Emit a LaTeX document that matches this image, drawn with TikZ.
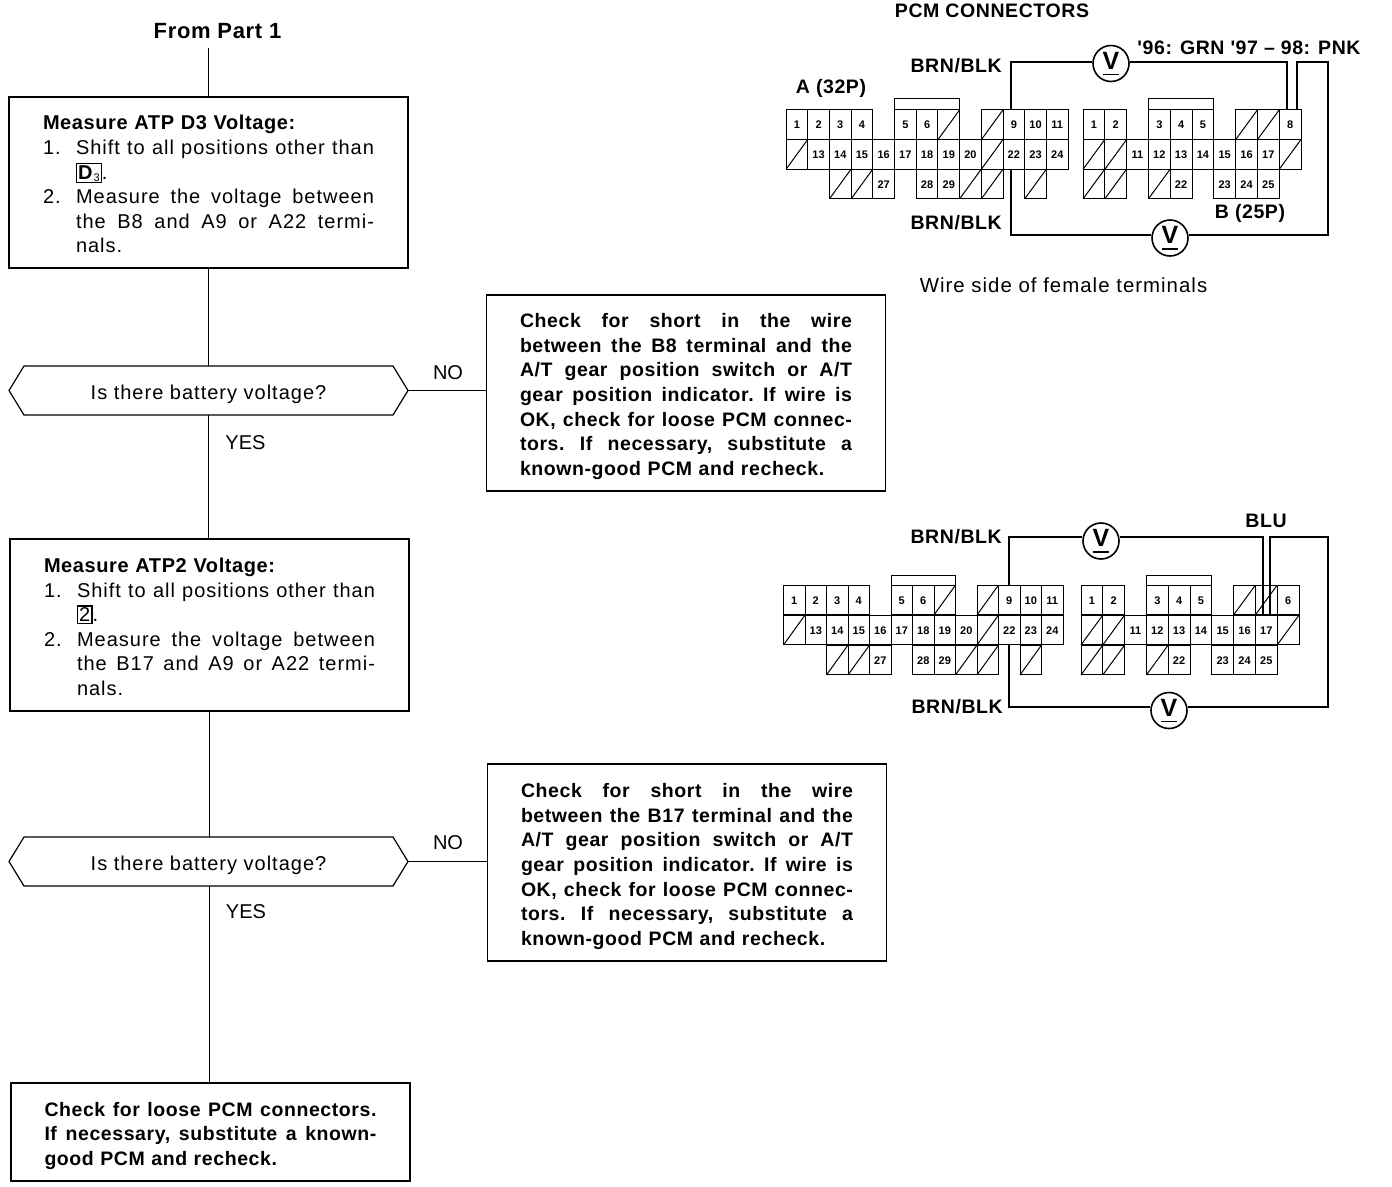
\documentclass[tikz,border=0pt]{standalone}
\usepackage{fontspec}
\setmainfont{Liberation Sans}
\newfontfamily\widefont[LetterSpace=5]{Liberation Sans}
\newfontfamily\wideboldfont[LetterSpace=3]{Liberation Sans}
\usepackage{tikz}
\usetikzlibrary{shapes.symbols}

\tikzset{
  stepbox/.style={draw, line width=1.2pt, rectangle, inner ysep=0pt, outer sep=0pt, align=left,
    font=\widefont\fontsize{20}{24.6}\selectfont},
  stepboldbox/.style={stepbox, font=\wideboldfont\bfseries\fontsize{19.5}{24.6}\selectfont,
    text width=332pt, inner xsep=33.5pt},
  askbox/.style={draw, line width=1.2pt, signal, signal to=west and east, signal pointer angle=117,
    minimum width=399pt, minimum height=49pt, inner sep=0pt, outer sep=0pt,
    font=\widefont\fontsize{20}{24}\selectfont},
  flow/.style={line width=1.1pt},
  wire/.style={line width=1.8pt},
  pinline/.style={line width=1pt},
  pincell/.style={draw, line width=1pt, rectangle, minimum height=29.8pt, inner sep=0pt, outer sep=0pt,
    text height=8pt, text depth=0pt, font=\bfseries\fontsize{11}{11}\selectfont},
  meter/.style={draw, line width=1.6pt, circle, fill=white, minimum size=36pt, inner sep=0pt,
    font=\bfseries\fontsize{25}{25}\selectfont},
  tag/.style={inner sep=0pt, font=\wideboldfont\bfseries\fontsize{19.5}{20}\selectfont},
  plainlabel/.style={inner sep=0pt, font=\fontsize{20}{20}\selectfont}
}

% align=left makes the spaces rigid, so give them their stretch back
\newcommand{\spreadline}[2]{\hbox to #1{\frenchspacing\spaceskip=.28em plus 1em minus .03em\relax #2}}
\newcommand{\fitline}[1]{\leavevmode\spreadline{332pt}{#1}}
\newcommand{\listline}[2]{\makebox[33pt][l]{#1}\spreadline{298pt}{#2}}
\newcommand{\gearbox}[1]{{\fboxsep=1pt\fboxrule=1.2pt\fbox{#1}}}
\newcommand{\meterlabel}{\makebox[0pt]{V}\makebox[0pt]{\rule[-6pt]{16pt}{1.5pt}}}
\newcommand{\asklabel}{\raisebox{-9pt}[0pt][0pt]{Is there battery voltage?}}
% prefix, left edge, cell width, row centre, col/label list
\newcommand{\pincells}[5]{%
  \foreach \col/\lab in {#5} {
    \node[pincell, minimum width=#3pt] (#1\lab) at ({#2+(\col+.5)*#3},#4) {\lab};
  }}
% same, but for the empty cells with a slash
\newcommand{\deadcells}[5]{%
  \foreach \col in {#5} {
    \node[pincell, minimum width=#3pt] (#1x\col) at ({#2+(\col+.5)*#3},#4) {};
    \draw[pinline] (#1x\col.south west) -- (#1x\col.north east);
  }}

\begin{document}
\begin{tikzpicture}[x=1pt,y=-1pt]
  \useasboundingbox (0,0) rectangle (1392,1186);

  % flow chart
  \node[tag, font=\wideboldfont\bfseries\fontsize{22}{22}\selectfont] (frompart) at (217.5,31) {From Part 1};
  \coordinate (start) at (208.5,48);

  \node[stepbox, text width=331pt, inner xsep=34pt, minimum height=171pt] (measd) at (208.5,182.5) {%
    \rule{0pt}{18pt}{\wideboldfont\bfseries Measure ATP D3 Voltage:}\\
    \listline{1.}{Shift to all positions other than}\\
    \hspace*{33pt}\gearbox{\textbf{D}\raisebox{-2pt}{\fontsize{11}{11}\selectfont 3}}.\\
    \listline{2.}{Measure the voltage between}\\
    \hspace*{33pt}\spreadline{298pt}{the B8 and A9 or A22 termi-}\\
    \hspace*{33pt}nals.};
  \node[askbox] (askd) at (208.5,390.5) {\asklabel};
  \node[stepboldbox, minimum height=196pt] (shortd) at (686,393) {%
    \rule{0pt}{21pt}\fitline{Check for short in the wire}\\
    \fitline{between the B8 terminal and the}\\
    \fitline{A/T gear position switch or A/T}\\
    \fitline{gear position indicator. If wire is}\\
    \fitline{OK, check for loose PCM connec-}\\
    \fitline{tors. If necessary, substitute a}\\
    known-good PCM and recheck.};
  \node[plainlabel] (nod) at (448,373) {NO};
  \node[plainlabel] (yesd) at (245.5,443) {YES};

  \node[stepbox, text width=331pt, inner xsep=34pt, minimum height=172pt] (meastwo) at (209.5,625) {%
    \rule{0pt}{18pt}{\wideboldfont\bfseries Measure ATP2 Voltage:}\\
    \listline{1.}{Shift to all positions other than}\\
    \hspace*{33pt}\gearbox{2}.\\
    \listline{2.}{Measure the voltage between}\\
    \hspace*{33pt}\spreadline{298pt}{the B17 and A9 or A22 termi-}\\
    \hspace*{33pt}nals.};
  \node[askbox] (asktwo) at (208.5,861.5) {\asklabel};
  \node[stepboldbox, minimum height=197pt] (shorttwo) at (687,862.5) {%
    \rule{0pt}{22pt}\fitline{Check for short in the wire}\\
    \fitline{between the B17 terminal and the}\\
    \fitline{A/T gear position switch or A/T}\\
    \fitline{gear position indicator. If wire is}\\
    \fitline{OK, check for loose PCM connec-}\\
    \fitline{tors. If necessary, substitute a}\\
    known-good PCM and recheck.};
  \node[plainlabel] (notwo) at (448,843) {NO};
  \node[plainlabel] (yestwo) at (246,912) {YES};

  \node[stepboldbox, minimum height=98pt] (finalchk) at (210.5,1132) {%
    \rule{0pt}{22pt}\fitline{Check for loose PCM connectors.}\\
    \fitline{If necessary, substitute a known-}\\
    good PCM and recheck.};

  \draw[flow] (start) -- (measd.north);
  \draw[flow] (measd.south) -- (askd.north);
  \draw[flow] (askd.south) -- (askd.south |- meastwo.north);
  \draw[flow] (meastwo.south) -- (asktwo.north -| meastwo.south);
  \draw[flow] (asktwo.south -| meastwo.south) -- (finalchk.north -| meastwo.south);
  \draw[flow] (askd.east) -- (shortd.west |- askd.east);
  \draw[flow] (asktwo.east) -- (shorttwo.west |- asktwo.east);

  % upper connectors
  \node[tag] (pcmtitle) at (992,11) {PCM CONNECTORS};
  \pincells{ta}{786}{21.7}{124.8}{0/1,1/2,2/3,3/4,5/5,6/6,10/9,11/10,12/11}
  \deadcells{taa}{786}{21.7}{124.8}{7,9}
  \pincells{ta}{786}{21.7}{154.4}{1/13,2/14,3/15,4/16,5/17,6/18,7/19,8/20,10/22,11/23,12/24}
  \deadcells{tab}{786}{21.7}{154.4}{0,9}
  \pincells{ta}{786}{21.7}{184}{4/27,6/28,7/29}
  \deadcells{tac}{786}{21.7}{184}{2,3,8,9,11}
  \draw[pinline] (ta5.north west) -- ++(0,-11) -| (taax7.north east);

  \pincells{tb}{1083}{21.8}{124.8}{0/1,1/2,3/3,4/4,5/5,9/8}
  \deadcells{tba}{1083}{21.8}{124.8}{7,8}
  \pincells{tb}{1083}{21.8}{154.4}{2/11,3/12,4/13,5/14,6/15,7/16,8/17}
  \deadcells{tbb}{1083}{21.8}{154.4}{0,1,9}
  \pincells{tb}{1083}{21.8}{184}{4/22,6/23,7/24,8/25}
  \deadcells{tbc}{1083}{21.8}{184}{0,1,3}
  \draw[pinline] (tb3.north west) -- ++(0,-11) -| (tb5.north east);

  \coordinate (tne) at (1328,62);
  \coordinate (tse) at (1328,235);
  \node[meter] (vtopa) at (1111,63.5) {\meterlabel};
  \node[meter] (vtopb) at (1170,238) {\meterlabel};
  \draw[wire] ([xshift=-3pt]ta9.north) |- (vtopa.west |- tne);
  \draw[wire] (vtopa.east |- tne) -| ([xshift=-3.5pt]tb8.north);
  \draw[wire] ([xshift=7pt]tb8.north) |- (tne) -- (tse) -- (vtopb.east |- tse);
  \draw[wire] ([xshift=-3pt]ta22.south) |- (vtopb.west |- tse);

  \node[tag, anchor=east] (brnaa) at (1002,66) {BRN/BLK};
  \node[tag, anchor=east] (brnab) at (1002,223) {BRN/BLK};
  \node[tag] (conna) at (831,88) {A (32P)};
  \node[tag] (connb) at (1250,213) {B (25P)};
  \node[tag] (grnpnk) at (1249,48) {'96: GRN '97 \textendash{} 98: PNK};
  \node[plainlabel, font=\widefont\fontsize{20.4}{20}\selectfont] (wireside) at (1063.5,285) {Wire side of female terminals};

  % lower connectors
  \pincells{la}{783.5}{21.5}{600}{0/1,1/2,2/3,3/4,5/5,6/6,10/9,11/10,12/11}
  \deadcells{laa}{783.5}{21.5}{600}{7,9}
  \pincells{la}{783.5}{21.5}{630}{1/13,2/14,3/15,4/16,5/17,6/18,7/19,8/20,10/22,11/23,12/24}
  \deadcells{lab}{783.5}{21.5}{630}{0,9}
  \pincells{la}{783.5}{21.5}{660}{4/27,6/28,7/29}
  \deadcells{lac}{783.5}{21.5}{660}{2,3,8,9,11}
  \draw[pinline] (la5.north west) -- ++(0,-10) -| (laax7.north east);

  \pincells{lb}{1081}{21.8}{600}{0/1,1/2,3/3,4/4,5/5,9/6}
  \deadcells{lba}{1081}{21.8}{600}{7,8}
  \pincells{lb}{1081}{21.8}{630}{2/11,3/12,4/13,5/14,6/15,7/16,8/17}
  \deadcells{lbb}{1081}{21.8}{630}{0,1,9}
  \pincells{lb}{1081}{21.8}{660}{4/22,6/23,7/24,8/25}
  \deadcells{lbc}{1081}{21.8}{660}{0,1,3}
  \draw[pinline] (lb3.north west) -- ++(0,-10) -| (lb5.north east);

  \coordinate (lne) at (1328,537);
  \coordinate (lse) at (1328,707);
  \node[meter] (vlowa) at (1101,541) {\meterlabel};
  \node[meter] (vlowb) at (1169,710.5) {\meterlabel};
  \draw[wire] (la9.north) |- (vlowa.west |- lne);
  \draw[wire] (vlowa.east |- lne) -| ([xshift=-3pt]lb17.north);
  \draw[wire] ([xshift=3.5pt]lb17.north) |- (lne) -- (lse) -- (vlowb.east |- lse);
  \draw[wire] (la22.south) |- (vlowb.west |- lse);

  \node[tag, anchor=east] (brnba) at (1002,537) {BRN/BLK};
  \node[tag, anchor=east] (brnbb) at (1003,707) {BRN/BLK};
  \node[tag] (blu) at (1266,521) {BLU};
\end{tikzpicture}
\end{document}
